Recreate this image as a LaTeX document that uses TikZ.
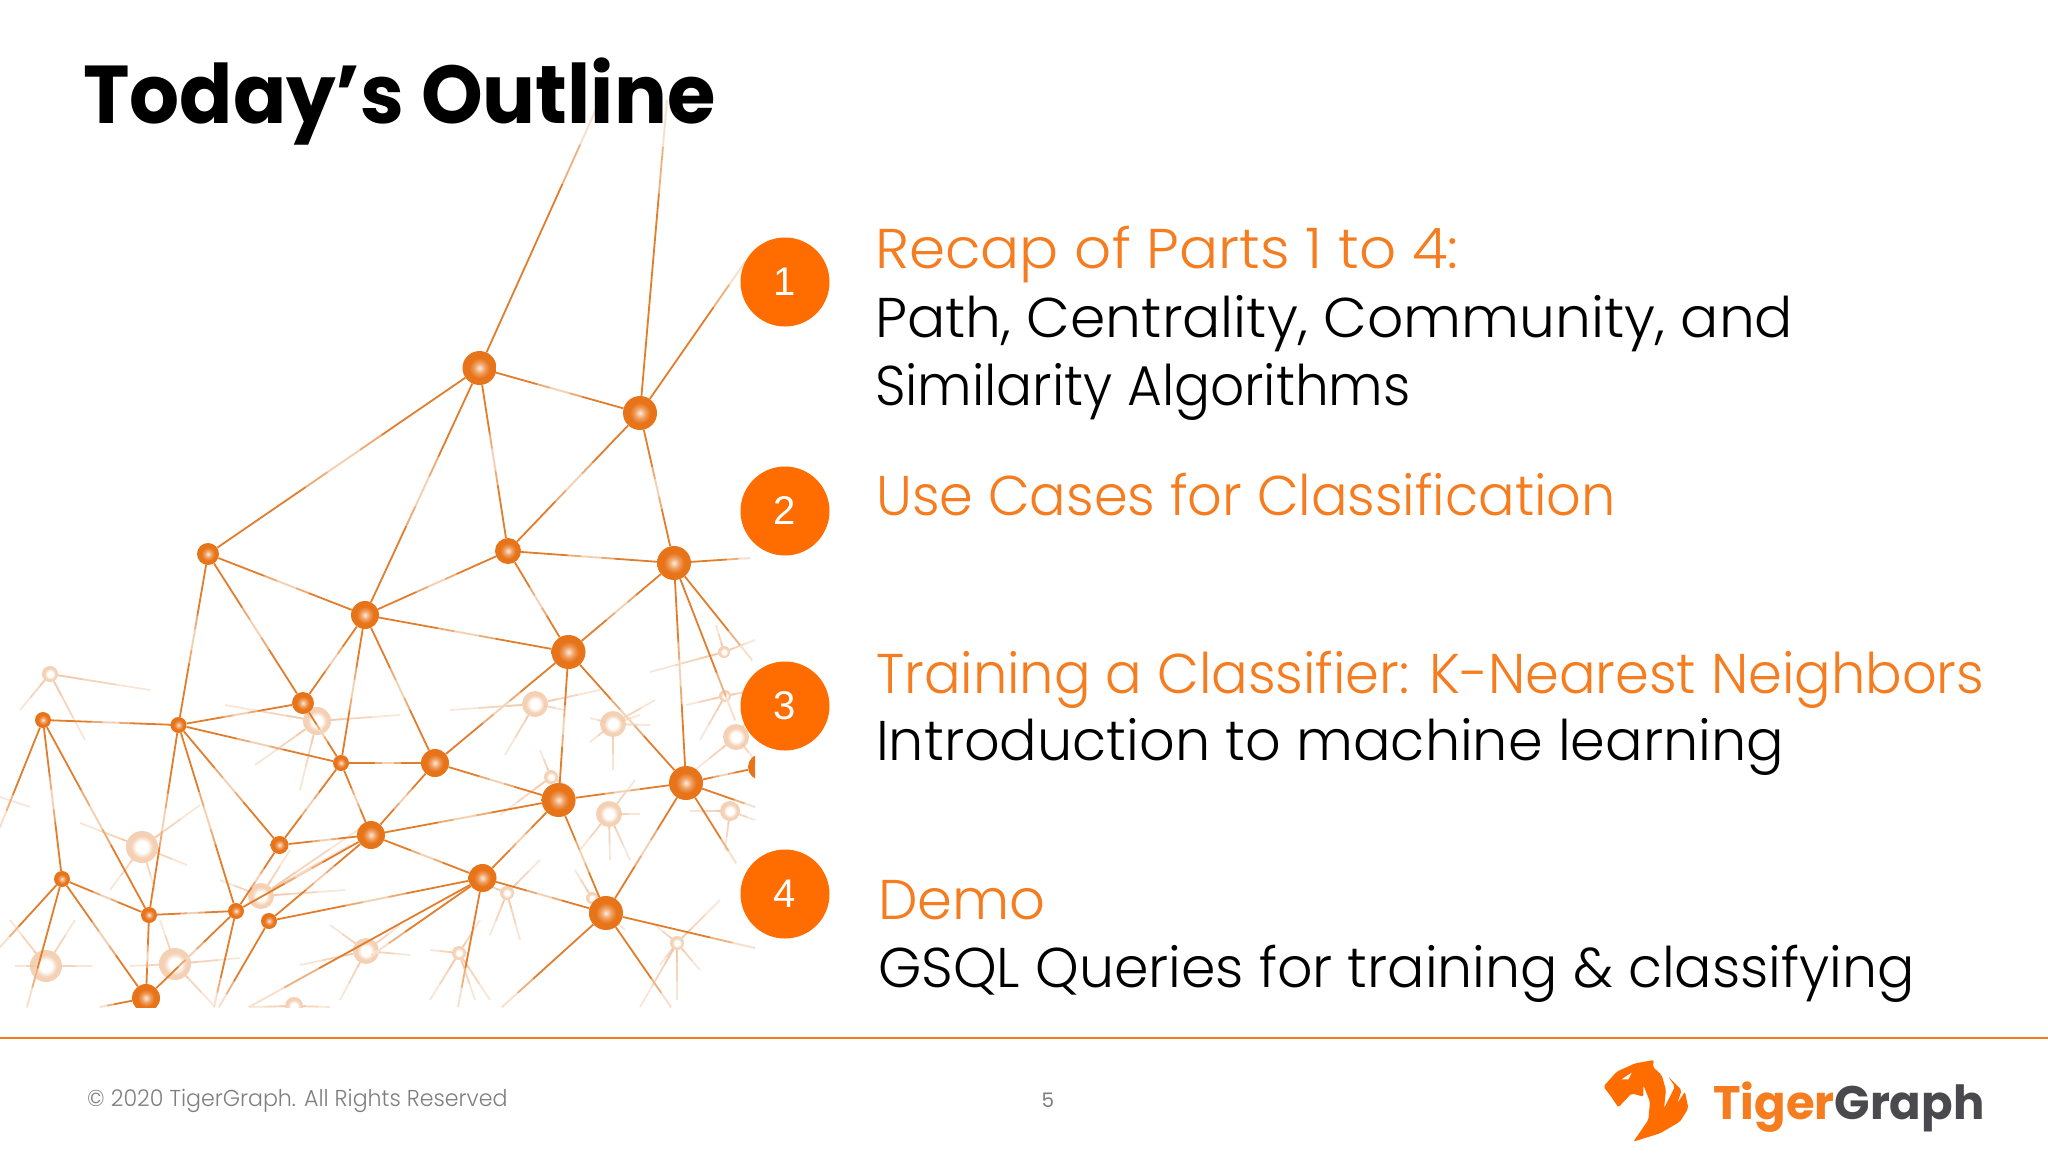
\documentclass[tikz,border=0pt]{standalone}
\usepackage{fontspec}
\usetikzlibrary{calc}
\setmainfont{Poppins}
\newfontfamily\lightfont{Poppins Light}
\newfontfamily\arialfont{Liberation Sans}
\definecolor{tgorange}{HTML}{FF6D00}
\definecolor{bodyorange}{HTML}{F57C1F}
\definecolor{netorange}{HTML}{E27D2C}
\definecolor{ballorange}{HTML}{E8741A}
\definecolor{peach}{HTML}{F0BE96}
\definecolor{footgray}{HTML}{7F7F7F}
\definecolor{logogray}{HTML}{4A4A4E}
\pgfdeclareradialshading{netball}{\pgfpoint{0bp}{0bp}}{color(0bp)=(white!85!ballorange); color(8bp)=(ballorange!70!white); color(15bp)=(ballorange); color(50bp)=(ballorange)}
\pgfdeclareradialshading{faintball}{\pgfpoint{0bp}{0bp}}{color(0bp)=(white); color(9bp)=(white); color(17bp)=(peach!70!white); color(50bp)=(peach!70!white)}
\tikzset{
  ball/.style={circle,draw=none,inner sep=0pt,minimum size=#1,shading=netball},
  faint/.style={circle,draw=none,inner sep=0pt,minimum size=#1,shading=faintball},
  netline/.style={draw=netorange,line width=1.8pt},
  washout/.style={draw=white,line width=2.6pt,opacity=#1},
  spike/.style={draw=peach,line width=1.7pt,opacity=.4},
  numdisc/.style={circle,fill=tgorange,inner sep=0pt,minimum size=89pt,text=white,font=\arialfont\fontsize{40}{40}\selectfont},
  headline/.style={anchor=base west,inner sep=0pt,text=bodyorange,font=\lightfont\fontsize{56}{56}\selectfont},
  bodyline/.style={anchor=base west,inner sep=0pt,text=black,font=\lightfont\fontsize{56}{56}\selectfont}
}
\begin{document}
\begin{tikzpicture}[x=1pt,y=-1pt]
\useasboundingbox (0,0) rectangle (2048,1152);
\fill[white] (0,0) rectangle (2048,1152);
\begin{scope}
\clip (0,100) rectangle (755,1007);
% faint background nodes
\foreach \n/\x/\y/\r in {a/50/674/16,b/142/847/32,c/317/721/28,d/535/704/26,e/613/724/26,f/724/652/12,g/725/696/12,h/736/737/26,i/551/777/14,j/609/814/26,k/730/811/20,l/261/896/26,m/507/893/14,n/592/898/12,o/677/943/14,p/366/951/26,q/459/953/14,r/46/966/32,s/175/964/32,t/294/1006/18}
  {\node[faint=\r pt] (\n) at (\x,\y) {};}
% faint radiating lines
\foreach \n/\x/\y in {a/150/690,a/20/710,a/85/740,b/80/823,b/200/805,b/187/865,b/110/890,b/155/890,
 c/225/705,c/400/715,c/255/765,c/300/790,d/450/710,d/505/755,d/600/690,d/565/710,
 e/590/718,e/655/700,e/650/725,e/590/742,e/640/715,e/613/770,f/650/672,f/755/640,f/716/625,
 g/686/705,g/755/690,g/700/740,h/695/770,h/755/710,h/755/760,i/540/750,i/500/815,i/575/790,
 j/640/814,j/580/850,j/610/860,j/635/780,j/630/860,k/690/811,k/755/820,k/725/850,
 l/345/890,l/220/880,l/290/850,l/350/845,l/365/825,m/475/880,m/540/860,m/490/935,m/520/940,
 n/575/870,n/625/930,o/655/925,o/720/900,o/677/1000,o/700/970,o/660/965,o/640/1007,
 p/300/965,p/330/925,p/400/925,p/410/955,p/340/1000,q/430/950,q/490/1000,q/430/1000,q/480/920,q/475/1000,
 r/15/966,r/92/966,r/10/920,r/75/920,s/240/958,s/130/966,s/215/1007,s/160/920,t/250/1007,t/330/1007}
 {\coordinate (z) at (\x,\y);
  \draw[spike] (\n) -- (z);
  \draw[spike] (\n) -- ($(\n)!.66!(z)$);
  \draw[spike] (\n) -- ($(\n)!.33!(z)$);}
\coordinate (f0) at (0,797); \coordinate (f1) at (30,807);
\draw[spike] (f0) -- (f1);
% main nodes
\foreach \n/\x/\y/\r in {A/479.5/368/34,B/640/413/34,C/208/554/22,D/508/551/26,E/674/563/34,F/365/615/28,
 G/568.5/652/34,H/303/703/22,I/43/720/16,J/178.5/725/16,K/341/763/16,L/435/763/28,M/558.6/800/34,N/686/783/34,
 O/279.5/845/18,P/371/835/28,Q/482.5/878/28,R/62/879/16,S/149/915/16,T/236/911/16,U/269/921/16,V/606/913/34,W/146/998/28,X/761/767/26}
  {\node[ball=\r pt] (\n) at (\x,\y) {};}
% node to node links
\foreach \a/\b in {A/B,A/C,A/F,A/D,B/D,B/E,D/E,C/F,D/F,D/G,C/J,C/H,F/G,F/H,F/K,F/L,E/G,E/N,G/M,G/L,G/N,H/J,H/K,J/I,J/K,J/S,J/T,J/O,I/R,I/S,K/L,K/O,K/P,L/P,L/M,M/N,M/P,M/Q,M/V,N/V,N/X,O/P,O/T,P/T,P/U,P/Q,Q/V,Q/U,R/S,R/W,S/T,S/W,T/W}
 {\draw[netline] (\a) -- (\b);
  \draw[washout=.35] ($(\a)!.36!(\b)$) -- ($(\a)!.64!(\b)$);
  \draw[washout=.45] ($(\a)!.44!(\b)$) -- ($(\a)!.56!(\b)$);}
% links that leave the picture or fade out
\foreach \a/\x/\y in {A/598/105,B/667/100,B/745/262,E/750/558,E/752/660,E/735/720,N/755/807,N/736/863,I/0/827,R/0/947,R/27/1007,Q/249/1007,Q/458/1007,Q/372/955,T/214/1007,U/219/1007,W/100/1007,V/502/1007,V/671/1007,V/755/948}
 {\coordinate (e) at (\x,\y);
  \draw[netline] (\a) -- (e);
  \draw[washout=.4] ($(\a)!.7!(e)$) -- (e);
  \draw[washout=.6] ($(\a)!.85!(e)$) -- (e);}
\end{scope}
% title
\node[anchor=base west,inner sep=0pt,font=\bfseries\fontsize{82}{82}\selectfont] (title) at (83,123) {\scalebox{.958}[1]{Today’s Outline}};
% numbered discs
\node[numdisc] (n1) at (785,282) {1};
\node[numdisc] (n2) at (785,511) {2};
\node[numdisc] (n3) at (785,706) {3};
\node[numdisc] (n4) at (785,894) {4};
% text
\node[headline] (t1) at (875,268) {\scalebox{1.035}[1]{Recap of Parts 1 to 4:}};
\node[bodyline] (t2) at (875,337) {\scalebox{1.013}[1]{Path, Centrality, Community, and}};
\node[bodyline] (t3) at (875,405) {\scalebox{.953}[1]{Similarity Algorithms}};
\node[headline] (t4) at (876,515) {\scalebox{.967}[1]{Use Cases for Classification}};
\node[headline] (t5) at (876,693) {\scalebox{.969}[1]{Training a Classifier: K-Nearest Neighbors}};
\node[bodyline] (t6) at (876,760) {\scalebox{.994}[1]{Introduction to machine learning}};
\node[headline] (t7) at (878,919) {Demo};
\node[bodyline] (t8) at (878,987) {\scalebox{.989}[1]{GSQL Queries for training \& classifying}};
% footer
\coordinate (r0) at (0,1037.5); \coordinate (r1) at (2048,1037.5);
\draw[draw=bodyorange,line width=2pt] (r0) -- (r1);
\node[anchor=base west,inner sep=0pt,text=footgray,font=\lightfont\fontsize{23}{23}\selectfont] (copy) at (87,1106) {\scalebox{.962}[1]{© 2020 TigerGraph. All Rights Reserved}};
\node[inner sep=0pt,text=footgray,font=\fontsize{20}{20}\selectfont] (pg) at (1048,1100) {5};
% logo
\begin{scope}[shift={(1560,1030)},x=.3333pt,y=-.3333pt]
\fill[tgorange,rounded corners=2pt] (130,170) -- (170,125) -- (225,100) -- (282,90) -- (278,110) -- (305,135) -- (318,180) -- (312,235) -- (345,170) -- (325,140) -- (365,180) -- (350,225) -- (318,270) -- (375,185) -- (385,235) -- (360,275) -- (300,310) -- (220,335) -- (265,270) -- (270,215) -- (250,165) -- (250,200) -- (215,190) -- (175,232) -- (150,195) -- cycle;
\fill[white] (185,148) -- (215,128) -- (205,148) -- cycle;
\end{scope}
\node[anchor=base west,inner sep=0pt,font=\bfseries\fontsize{47}{47}\selectfont] (logo) at (1713,1119) {\scalebox{.99}[1]{\textcolor{bodyorange}{Tiger}\textcolor{logogray}{Graph}}};
\end{tikzpicture}
\end{document}
